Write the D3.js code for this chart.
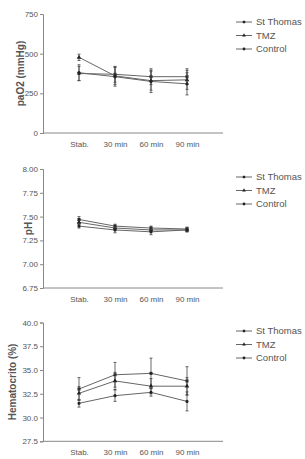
<!DOCTYPE html>
<html>
<head>
<meta charset="utf-8">
<script src="https://cdn.jsdelivr.net/npm/d3@7/dist/d3.min.js"></script>
<style>
  body { margin: 0; background: #fff; }
  text { font-family: "Liberation Sans", Arial, sans-serif; fill: #555; }
</style>
</head>
<body>
<div id="container"></div>
<script>
const categories = ["Stab.", "30 min", "60 min", "90 min"];
const seriesNames = ["St Thomas", "TMZ", "Control"];

// paO2 (mmHg)
const pao2Values = [[375, 370, 355, 355], [477, 360, 330, 335], [380, 355, 325, 310]];
const pao2Errors = [[45, 50, 50, 50], [20, 55, 60, 60], [50, 60, 70, 70]];
const pao2Ticks = [0, 250, 500, 750];

// pH
const phValues = [[7.47, 7.40, 7.38, 7.37], [7.44, 7.38, 7.36, 7.36], [7.40, 7.36, 7.34, 7.36]];
const phErrors = [[0.03, 0.02, 0.02, 0.02], [0.02, 0.02, 0.02, 0.02], [0.02, 0.03, 0.03, 0.02]];
const phTicks = [6.75, 7.00, 7.25, 7.50, 7.75, 8.00];

// Hematocrito (%)
const hctValues = [[33.0, 34.5, 34.65, 33.85], [32.55, 33.85, 33.3, 33.3], [31.5, 32.3, 32.65, 31.7]];
const hctErrors = [[1.2, 1.3, 1.6, 1.5], [0.7, 0.9, 0.8, 0.9], [0.4, 0.6, 0.4, 1.0]];
const hctTicks = [27.5, 30.0, 32.5, 35.0, 37.5, 40.0];

const panels = [
  { label: "paO2 (mmHg)", values: pao2Values, errors: pao2Errors, ticks: pao2Ticks, fmt: d3.format("d"),
    top: 14, bottom: 133, labelX: 20, legendY: 22 },
  { label: "pH", values: phValues, errors: phErrors, ticks: phTicks, fmt: d3.format(".2f"),
    top: 169, bottom: 288, labelX: 28, legendY: 177 },
  { label: "Hematocrito (%)", values: hctValues, errors: hctErrors, ticks: hctTicks, fmt: d3.format(".1f"),
    top: 322.5, bottom: 441.3, labelX: 12, legendY: 331 }
];

const width = 305, height = 459;
const left = 43, right = 223;
const axisColor = "#888";
const lineColor = "#666";
const markColor = "#222";

const svg = d3.select("#container")
  .append("svg")
  .attr("width", width)
  .attr("height", height);

const x = d3.scalePoint().domain(categories).range([left, right]).padding(1);

const symbols = [d3.symbolSquare, d3.symbolTriangle, d3.symbolCircle];
const symbolSizes = [9, 9, 8];

panels.forEach(p => {
  const g = svg.append("g");
  const y = d3.scaleLinear()
    .domain([p.ticks[0], p.ticks[p.ticks.length - 1]])
    .range([p.bottom, p.top]);

  // y axis
  const yAxis = g.append("g")
    .attr("transform", `translate(${left},0)`)
    .call(d3.axisLeft(y).tickValues(p.ticks).tickFormat(p.fmt).tickSize(3).tickPadding(2));
  yAxis.select(".domain").attr("stroke", axisColor);
  yAxis.selectAll(".tick line").attr("stroke", axisColor);
  yAxis.selectAll("text").style("font-size", "8px").attr("fill", "#555");

  // x axis
  const xAxis = g.append("g")
    .attr("transform", `translate(0,${p.bottom})`)
    .call(d3.axisBottom(x).tickSize(0).tickPadding(8));
  xAxis.select(".domain").attr("stroke", axisColor).attr("d", `M${left},0H${right}`);
  xAxis.selectAll("text").style("font-size", "8px").attr("fill", "#555");

  // y label
  g.append("text")
    .attr("transform", `translate(${p.labelX},${(p.top + p.bottom) / 2}) rotate(-90)`)
    .attr("text-anchor", "middle")
    .attr("dy", "0.35em")
    .style("font-size", "10px")
    .style("font-weight", "bold")
    .text(p.label);

  const line = d3.line()
    .x((d, i) => x(categories[i]))
    .y(d => y(d));

  p.values.forEach((vals, s) => {
    // error bars
    vals.forEach((v, i) => {
      const e = p.errors[s][i];
      const cx = x(categories[i]);
      g.append("line")
        .attr("x1", cx).attr("x2", cx)
        .attr("y1", y(v - e)).attr("y2", y(v + e))
        .attr("stroke", "#444").attr("stroke-width", 0.8);
      [v - e, v + e].forEach(ev => {
        g.append("line")
          .attr("x1", cx - 1.5).attr("x2", cx + 1.5)
          .attr("y1", y(ev)).attr("y2", y(ev))
          .attr("stroke", "#444").attr("stroke-width", 0.8);
      });
    });

    g.append("path")
      .datum(vals)
      .attr("d", line)
      .attr("fill", "none")
      .attr("stroke", lineColor)
      .attr("stroke-width", 1);

    g.selectAll(null)
      .data(vals)
      .enter()
      .append("path")
      .attr("transform", (d, i) => `translate(${x(categories[i])},${y(d)})`)
      .attr("d", d3.symbol().type(symbols[s]).size(symbolSizes[s]))
      .attr("fill", markColor);
  });

  // legend
  const leg = g.append("g");
  seriesNames.forEach((name, s) => {
    const ly = p.legendY + s * 13.5;
    leg.append("line")
      .attr("x1", 236).attr("x2", 252)
      .attr("y1", ly).attr("y2", ly)
      .attr("stroke", lineColor).attr("stroke-width", 1);
    leg.append("path")
      .attr("transform", `translate(244,${ly})`)
      .attr("d", d3.symbol().type(symbols[s]).size(6))
      .attr("fill", markColor);
    leg.append("text")
      .attr("x", 256)
      .attr("y", ly)
      .attr("dy", "0.35em")
      .style("font-size", "9.5px")
      .text(name);
  });
});
</script>
</body>
</html>
